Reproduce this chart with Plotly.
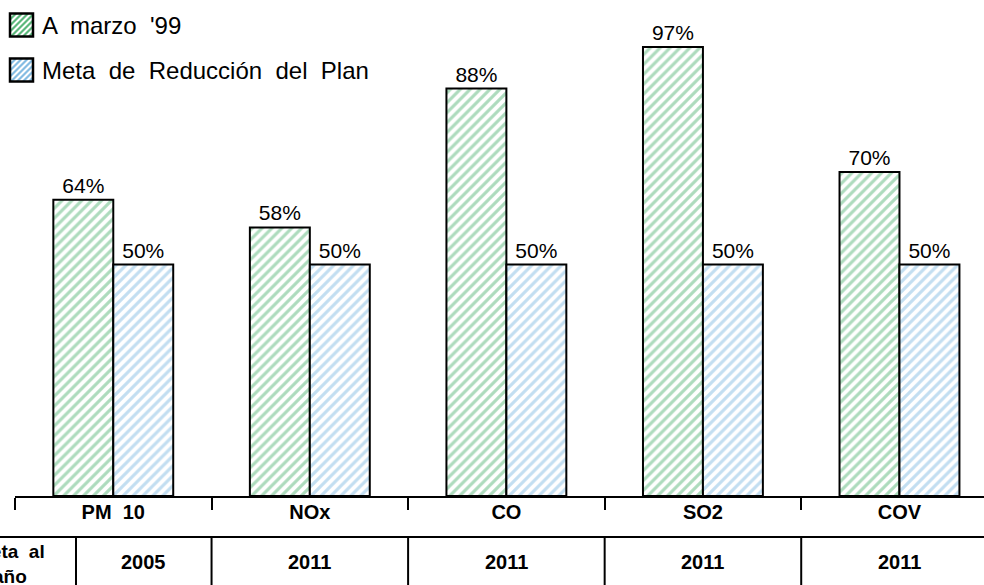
import plotly.graph_objects as go

# ---- data ----
categories = ["PM  10", "NOx", "CO", "SO2", "COV"]
marzo_99 = [64, 58, 88, 97, 70]
meta_plan = [50, 50, 50, 50, 50]
meta_year = ["2005", "2011", "2011", "2011", "2011"]
series_names = ["A  marzo  '99", "Meta  de  Reducción  del  Plan"]
row_label = "Meta  al<br>año"

# ---- layout constants ----
W, H = 984, 585
ML, MR, MT, MB = 15, 0, 0, 89
PW, PH = W - ML - MR, H - MT - MB
FONT = "Arial, Liberation Sans, sans-serif"
GREEN = "#5cb87c"
BLUE = "#86bde3"
colors = [GREEN, BLUE]


def py(pix):
    """pixel y (from top) -> paper y"""
    return (H - MB - pix) / PH


def px(pix):
    return (pix - ML) / PW


fig = go.Figure()
for name, vals, col in [(series_names[0], marzo_99, GREEN),
                        (series_names[1], meta_plan, BLUE)]:
    fig.add_trace(go.Bar(
        x=categories, y=vals, name=name, showlegend=False,
        text=[f"{v}%" for v in vals], textposition="outside",
        textfont=dict(family=FONT, size=21, color="black"),
        cliponaxis=False,
        marker=dict(color="white",
                    line=dict(color="black", width=2),
                    pattern=dict(shape="/", fgcolor=col, bgcolor="white",
                                 size=7, solidity=0.45)),
    ))

shapes = []
# horizontal table line
shapes.append(dict(type="line", xref="paper", yref="paper",
                   x0=px(0), x1=1.02, y0=py(537), y1=py(537),
                   line=dict(color="black", width=2)))
# vertical separators: row-label cell edge + category boundaries
first_edge = -0.5 + (76 - ML) / 196.5
seps = [first_edge] + [i + 0.5 for i in range(len(categories) - 1)]
for s in seps:
    shapes.append(dict(type="line", xref="x", yref="paper",
                       x0=s, x1=s, y0=py(537), y1=py(H + 5),
                       line=dict(color="black", width=2)))

annotations = []
cell_centers = [(first_edge + 0.5) / 2] + list(range(1, len(categories)))
for c, t in zip(cell_centers, meta_year):
    annotations.append(dict(x=c, xref="x", y=py(562), yref="paper",
                            text=f"<b>{t}</b>", showarrow=False,
                            xanchor="center", yanchor="middle",
                            font=dict(family=FONT, size=20, color="black")))
annotations.append(dict(x=px(10), xref="paper", y=py(564), yref="paper",
                        text=f"<b>{row_label}</b>", showarrow=False,
                        xanchor="center", yanchor="middle", align="center",
                        font=dict(family=FONT, size=19, color="black")))

# ---- legend (hatched swatches + text) ----
legend_rows = [25, 70]
SW = 23
for name, col, cy in zip(series_names, colors, legend_rows):
    x0, x1 = 10, 10 + SW
    y0, y1 = cy - SW / 2, cy + SW / 2
    segs = []
    step = 6
    k = -SW
    while k < SW:
        ax, ay = x0 + k, y1
        bx, by = x0 + k + SW, y0
        if ax < x0:
            ay -= (x0 - ax)
            ax = x0
        if bx > x1:
            by += (bx - x1)
            bx = x1
        if ax < bx:
            segs.append(f"M{px(ax)},{py(ay)} L{px(bx)},{py(by)}")
        k += step
    shapes.append(dict(type="path", xref="paper", yref="paper",
                       path=" ".join(segs),
                       line=dict(color=col, width=2.2)))
    shapes.append(dict(type="rect", xref="paper", yref="paper",
                       x0=px(x0), x1=px(x1), y0=py(y0), y1=py(y1),
                       line=dict(color="black", width=2.5),
                       fillcolor="rgba(0,0,0,0)"))
    annotations.append(dict(x=px(40), xref="paper", y=py(cy), yref="paper",
                            text=name, showarrow=False,
                            xanchor="left", yanchor="middle",
                            font=dict(family=FONT, size=24, color="black")))

fig.update_layout(
    width=W, height=H,
    margin=dict(l=ML, r=MR, t=MT, b=MB),
    paper_bgcolor="white", plot_bgcolor="white",
    barmode="group", bargap=0.39, bargroupgap=0,
    font=dict(family=FONT, color="black"),
    showlegend=False,
    xaxis=dict(type="category", range=[-0.5, 4.43],
               tickson="boundaries", ticks="outside", ticklen=12,
               tickwidth=2, tickcolor="black",
               showline=True, linewidth=2, linecolor="black",
               showgrid=False, ticklabelstandoff=-3,
               tickfont=dict(family=FONT, size=20, color="black",
                             weight="bold")),
    yaxis=dict(range=[0, PH / 4.63], visible=False, showgrid=False,
               zeroline=False),
    shapes=shapes, annotations=annotations,
)

fig.write_html("out.html", config={"displayModeBar": False},
               post_script="document.body.style.margin='0';")
